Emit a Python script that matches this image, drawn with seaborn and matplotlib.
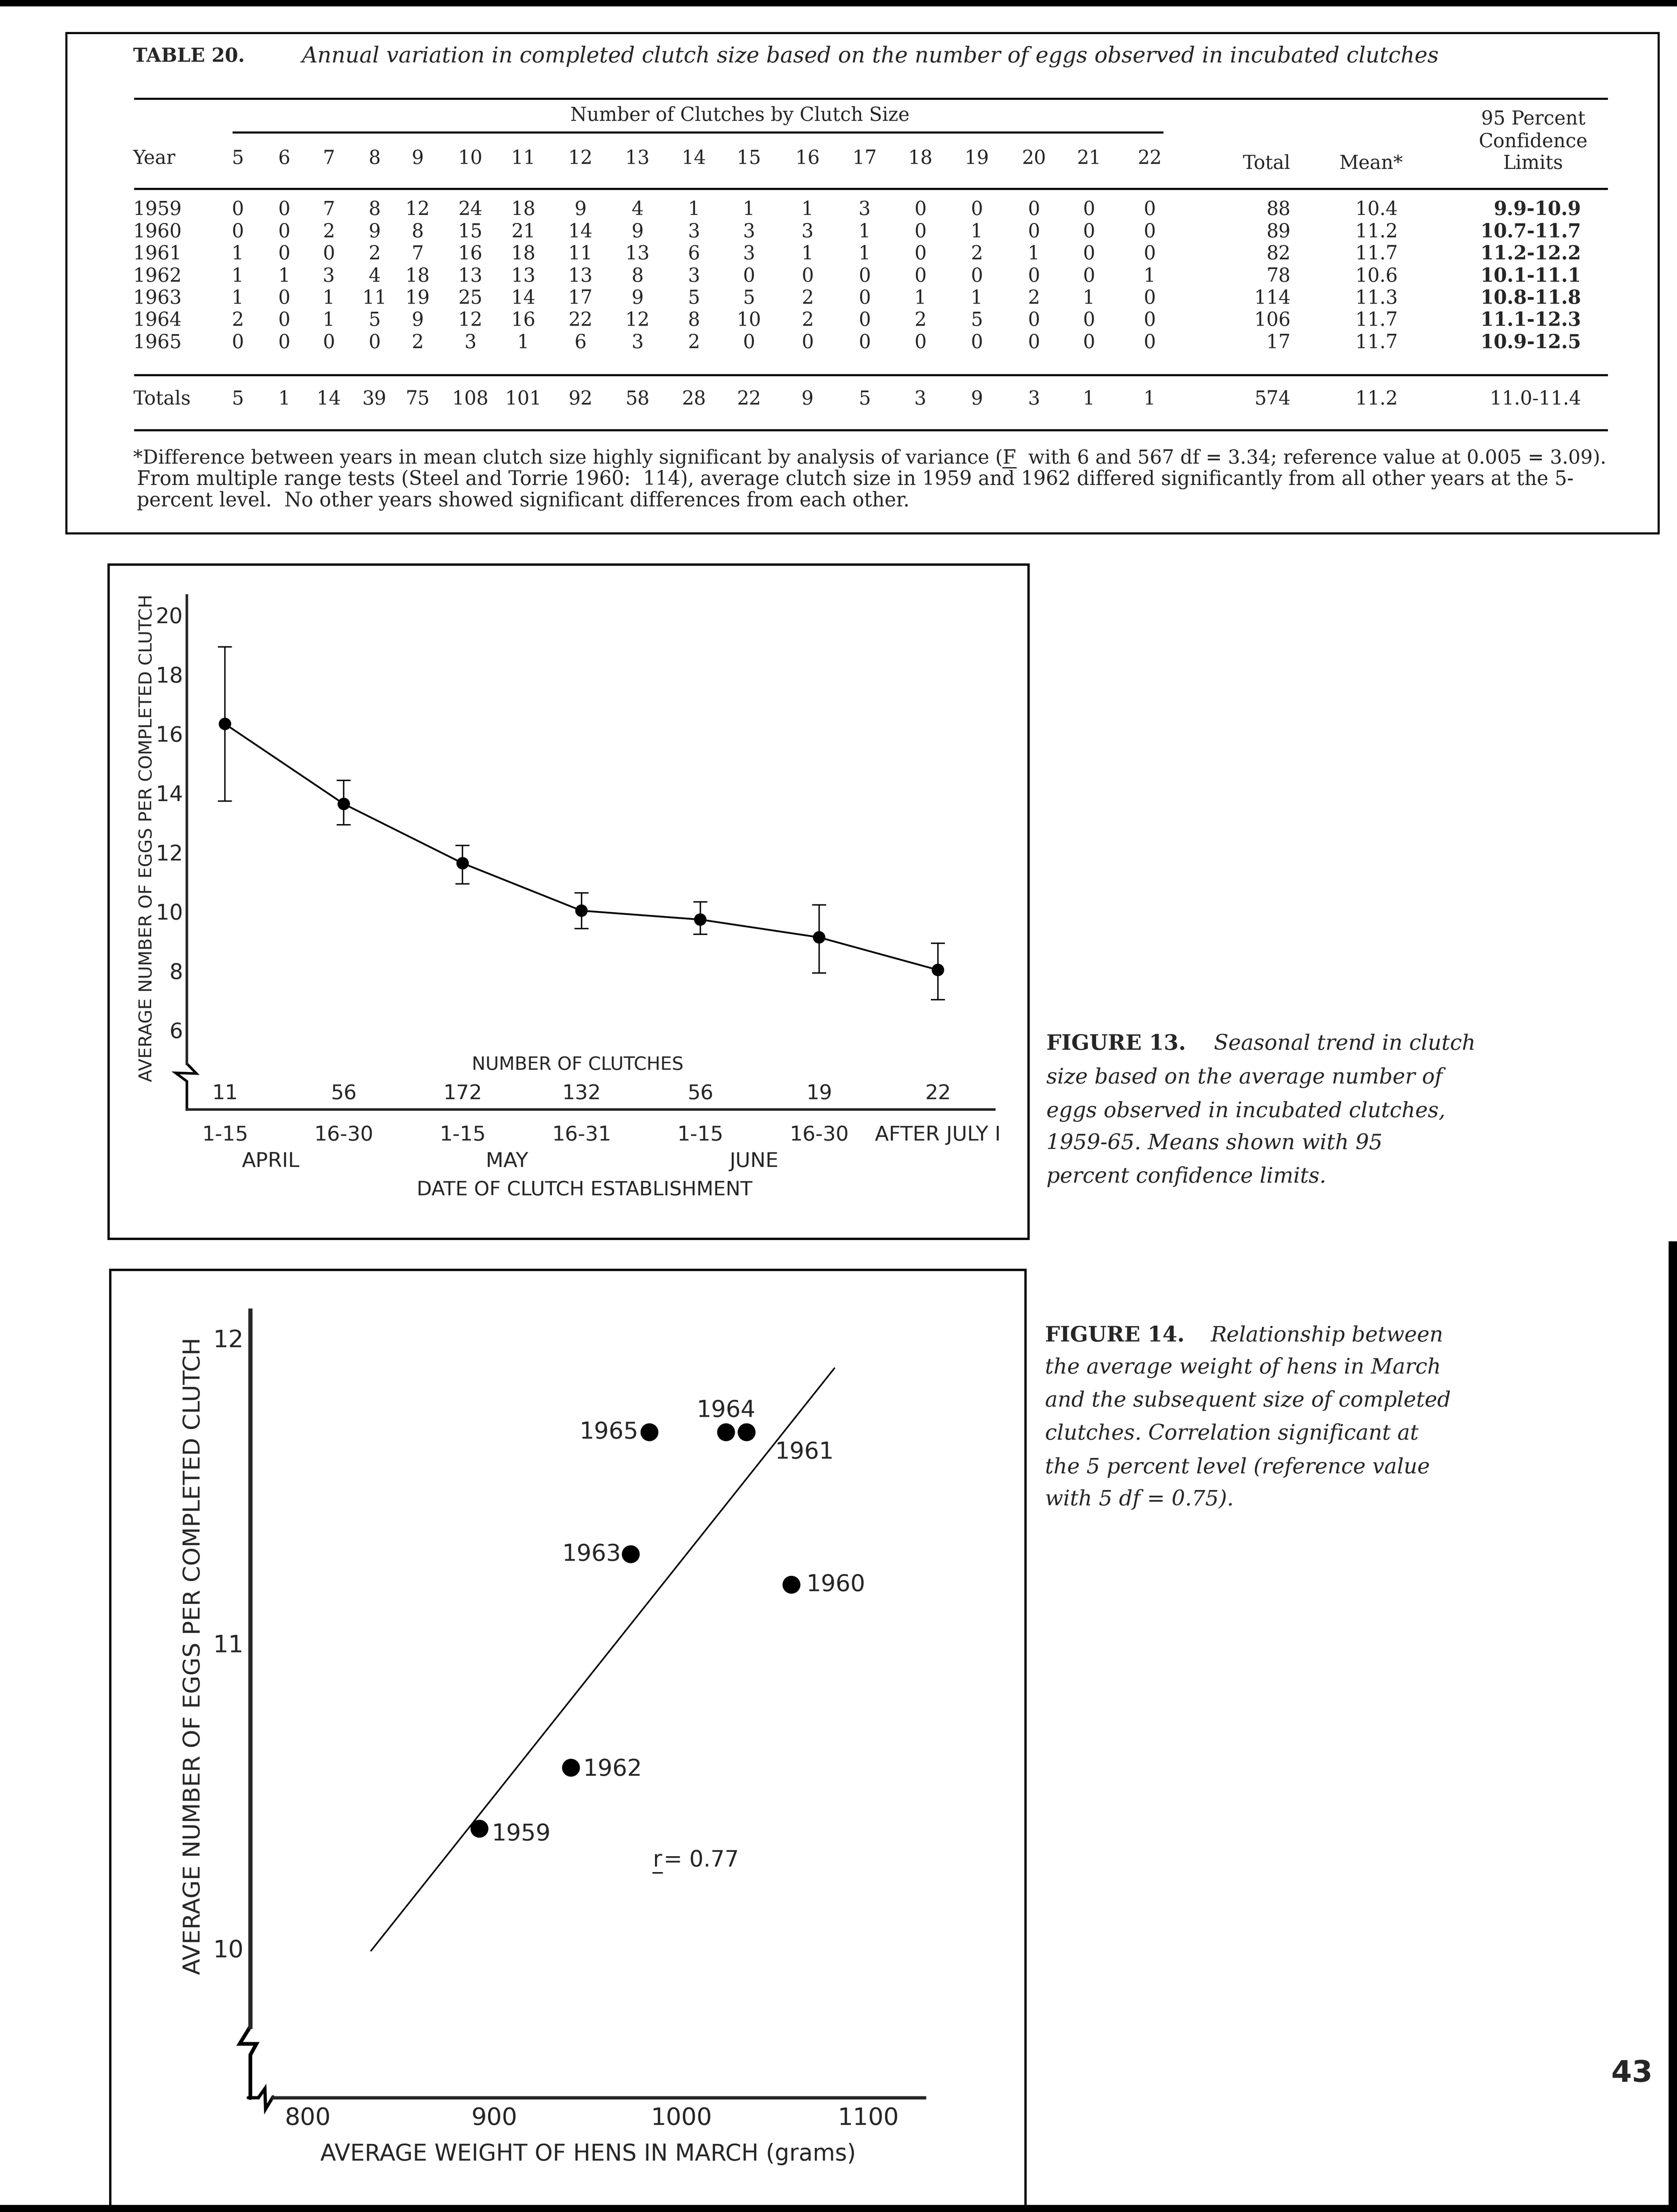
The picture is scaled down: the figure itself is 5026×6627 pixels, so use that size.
import numpy as np
import pandas as pd
import matplotlib
matplotlib.use("Agg")
import matplotlib.pyplot as plt
import matplotlib.transforms as mtransforms
from matplotlib.patches import Rectangle
import seaborn as sns

# ------------------------------------------------------------------ data
# TABLE 20
clutch_sizes = list(range(5, 23))
years = ["1959", "1960", "1961", "1962", "1963", "1964", "1965"]
c1959 = [0, 0, 7, 8, 12, 24, 18, 9, 4, 1, 1, 1, 3, 0, 0, 0, 0, 0]
c1960 = [0, 0, 2, 9, 8, 15, 21, 14, 9, 3, 3, 3, 1, 0, 1, 0, 0, 0]
c1961 = [1, 0, 0, 2, 7, 16, 18, 11, 13, 6, 3, 1, 1, 0, 2, 1, 0, 0]
c1962 = [1, 1, 3, 4, 18, 13, 13, 13, 8, 3, 0, 0, 0, 0, 0, 0, 0, 1]
c1963 = [1, 0, 1, 11, 19, 25, 14, 17, 9, 5, 5, 2, 0, 1, 1, 2, 1, 0]
c1964 = [2, 0, 1, 5, 9, 12, 16, 22, 12, 8, 10, 2, 0, 2, 5, 0, 0, 0]
c1965 = [0, 0, 0, 0, 2, 3, 1, 6, 3, 2, 0, 0, 0, 0, 0, 0, 0, 0]
year_counts = [c1959, c1960, c1961, c1962, c1963, c1964, c1965]
year_totals = [88, 89, 82, 78, 114, 106, 17]
year_means = ["10.4", "11.2", "11.7", "10.6", "11.3", "11.7", "11.7"]
year_limits = ["9.9-10.9", "10.7-11.7", "11.2-12.2", "10.1-11.1",
               "10.8-11.8", "11.1-12.3", "10.9-12.5"]
col_totals = [5, 1, 14, 39, 75, 108, 101, 92, 58, 28, 22, 9, 5, 3, 9, 3, 1, 1]
grand_total = 574
grand_mean = "11.2"
grand_limits = "11.0-11.4"

# FIGURE 13
periods = ["1-15", "16-30", "1-15", "16-31", "1-15", "16-30", "AFTER JULY I"]
months = ["APRIL", "MAY", "JUNE"]
n_clutches = [11, 56, 172, 132, 56, 19, 22]
mean_eggs = [16.4, 13.7, 11.7, 10.1, 9.8, 9.2, 8.1]
ci_low = [13.8, 13.0, 11.0, 9.5, 9.3, 8.0, 7.1]
ci_high = [19.0, 14.5, 12.3, 10.7, 10.4, 10.3, 9.0]
f13_yticks = [6, 8, 10, 12, 14, 16, 18, 20]

# FIGURE 14
hen_years = ["1959", "1960", "1961", "1962", "1963", "1964", "1965"]
hen_weight = [892, 1059, 1035, 941, 973, 1024, 983]
hen_clutch = [10.4, 11.2, 11.7, 10.6, 11.3, 11.7, 11.7]
fit_weight = [834, 1082]
fit_clutch = [10.0, 11.91]
f14_xticks = [800, 900, 1000, 1100]
f14_yticks = [10, 11, 12]

# ------------------------------------------------------------------ page
W, H, DPI = 5026, 6627, 100
PW, PH = 1189.0, 1568.0          # layout units (page scaled)
SX = W / PW                      # pixels per layout unit
PT = SX * 72.0 / DPI             # points per layout unit

sns.set_style("white")
plt.rcParams["font.family"] = ["DejaVu Sans"]
SERIF = "DejaVu Serif"
NARROW = ["Liberation Sans Narrow", "DejaVu Sans"]
SANS = ["DejaVu Sans"]

fig = plt.figure(figsize=(W / DPI, H / DPI), dpi=DPI, facecolor="white")
pg = fig.add_axes([0, 0, 1, 1], zorder=0)
pg.set_xlim(0, PW)
pg.set_ylim(PH, 0)
pg.axis("off")
renderer = fig.canvas.get_renderer()


def fit(t, w, vertical=False):
    bb = t.get_window_extent(renderer)
    cur = bb.height if vertical else bb.width
    t.set_fontsize(t.get_fontsize() * w * SX / cur)
    return t.get_fontsize()


def text_width(s, **kw):
    tmp = pg.text(0, 0, s, **kw)
    w = tmp.get_window_extent(renderer).width / SX
    tmp.remove()
    return w


def rule(x0, x1, y, lw=4.5):
    pg.plot([x0, x1], [y, y], color="black", lw=lw, solid_capstyle="butt")


def box(x0, y0, x1, y1, lw=4.5):
    pg.add_patch(Rectangle((x0, y0), x1 - x0, y1 - y0, fill=False,
                           edgecolor="black", lw=lw))


# page edges
pg.add_patch(Rectangle((0, 0), PW, 4.3, color="black"))
pg.add_patch(Rectangle((0, 1563), PW, 5, color="black"))
pg.add_patch(Rectangle((1183, 880), 6, 688, color="black"))

# ------------------------------------------------------------------ TABLE 20
box(47, 23.5, 1176, 378, lw=4.5)
TS = 41
pg.text(94.4, 40, "TABLE 20.", family=SERIF, weight="bold", fontsize=TS,
        ha="left", va="center")
t = pg.text(214, 40, "Annual variation in completed clutch size based on the "
            "number of eggs observed in incubated clutches",
            family=SERIF, style="italic", fontsize=TS, ha="left", va="center")
fit(t, 1021 - 214)

rule(95, 1140, 70)
pg.text(524.6, 82, "Number of Clutches by Clutch Size", family=SERIF,
        fontsize=TS, ha="center", va="center")
rule(165, 825, 94)
for yy, s in zip([84.5, 100.5, 116], ["95 Percent", "Confidence", "Limits"]):
    pg.text(1087, yy, s, family=SERIF, fontsize=TS, ha="center", va="center")

col_x = [168.5, 201.5, 233, 265.5, 296, 333.5, 371, 411.5, 452, 492, 531,
         572.5, 613, 652.5, 692.5, 733, 772, 815]
hy = 112.5
pg.text(94.4, hy, "Year", family=SERIF, fontsize=TS, ha="left", va="center")
for x, c in zip(col_x, clutch_sizes):
    pg.text(x, hy, str(c), family=SERIF, fontsize=TS, ha="center", va="center")
pg.text(898, 116, "Total", family=SERIF, fontsize=TS, ha="center", va="center")
pg.text(972, 116, "Mean*", family=SERIF, fontsize=TS, ha="center", va="center")
rule(95, 1140, 134)

row_y0, row_dy = 148.7, 15.7
for i, (yr, row) in enumerate(zip(years, year_counts)):
    y = row_y0 + i * row_dy
    pg.text(94.4, y, yr, family=SERIF, fontsize=TS, ha="left", va="center")
    for x, v in zip(col_x, row):
        pg.text(x, y, str(v), family=SERIF, fontsize=TS, ha="center", va="center")
    pg.text(915, y, str(year_totals[i]), family=SERIF, fontsize=TS,
            ha="right", va="center")
    pg.text(976, y, year_means[i], family=SERIF, fontsize=TS,
            ha="center", va="center")
    pg.text(1121, y, year_limits[i], family=SERIF, fontsize=TS, weight="bold",
            ha="right", va="center")

rule(95, 1140, 266)
ty = 283
pg.text(94.4, ty, "Totals", family=SERIF, fontsize=TS, ha="left", va="center")
for x, v in zip(col_x, col_totals):
    pg.text(x, ty, str(v), family=SERIF, fontsize=TS, ha="center", va="center")
pg.text(915, ty, str(grand_total), family=SERIF, fontsize=TS, ha="right", va="center")
pg.text(976, ty, grand_mean, family=SERIF, fontsize=TS, ha="center", va="center")
pg.text(1121, ty, grand_limits, family=SERIF, fontsize=TS, ha="right", va="center")
rule(95, 1140, 305)

fn_pre = ("*Difference between years in mean clutch size highly "
          "significant by analysis of variance (")
f1 = pg.text(94.4, 325, fn_pre + "F  with 6 and 567 df = 3.34; "
             "reference value at 0.005 = 3.09).", family=SERIF, fontsize=TS,
             ha="left", va="center")
fs1 = fit(f1, 1140 - 94.4)
ux0 = 94.4 + text_width(fn_pre, family=SERIF, fontsize=fs1)
uw = text_width("F", family=SERIF, fontsize=fs1)
pg.plot([ux0, ux0 + uw], [331.5, 331.5], color="black", lw=2.5)
f2 = pg.text(97, 340, "From multiple range tests (Steel and Torrie 1960:  114), "
             "average clutch size in 1959 and 1962 differed significantly from "
             "all other years at the 5-", family=SERIF, fontsize=TS,
             ha="left", va="center")
fs2 = fit(f2, 1118 - 97)
pg.text(97, 355, "percent level.  No other years showed significant differences "
        "from each other.", family=SERIF, fontsize=fs2, ha="left", va="center")

# ------------------------------------------------------------------ FIGURE 13
box(77, 400, 729, 878, lw=5)
L13, R13, T13, B13 = 132.5, 705, 422, 786.6
ax13 = fig.add_axes([L13 / PW, 1 - B13 / PH, (R13 - L13) / PW, (B13 - T13) / PH],
                    zorder=2)
ax13.patch.set_alpha(0)
xpos = list(range(len(mean_eggs)))
df13 = pd.DataFrame({"x": xpos, "mean": mean_eggs, "lo": ci_low, "hi": ci_high})
sns.lineplot(data=df13, x="x", y="mean", ax=ax13, color="black", lw=3.8)
ax13.errorbar(df13["x"], df13["mean"],
              yerr=[df13["mean"] - df13["lo"], df13["hi"] - df13["mean"]],
              fmt="none", ecolor="black", elinewidth=3, capsize=15, capthick=3)
sns.scatterplot(data=df13, x="x", y="mean", ax=ax13, color="black", s=720,
                edgecolor="none", zorder=5)
ax13.set_xlim(-0.3205, 6.4748)
ax13.set_ylim(3.387, 20.738)
for s in ["top", "right"]:
    ax13.spines[s].set_visible(False)
ax13.spines["left"].set_linewidth(5.5)
ax13.spines["bottom"].set_linewidth(5.5)
ax13.spines["left"].set_bounds(4.94, 20.738)
ax13.set_xticks(xpos)
ax13.set_xticklabels(periods)
ax13.set_yticks(f13_yticks)
ax13.tick_params(axis="x", direction="inout", length=13 * PT, width=3.2, pad=14,
                 labelsize=44, color="black")
ax13.tick_params(axis="y", direction="in", length=6.6 * PT, width=3.2,
                 labelleft=False, color="black")
for lbl in ax13.get_xticklabels():
    lbl.set_family(NARROW)
ax13.set_xlabel("")
ax13.set_ylabel("")
yblend13 = mtransforms.blended_transform_factory(ax13.transAxes, ax13.transData)
for v in f13_yticks:
    ax13.text(-0.005, v, str(v), transform=yblend13, rotation=0, ha="right",
              va="center", fontsize=46, family=NARROW)
blend13 = mtransforms.blended_transform_factory(ax13.transData, ax13.transAxes)
for x, n in zip(xpos, n_clutches):
    ax13.text(x, (B13 - 775.3) / (B13 - T13), str(n), transform=blend13,
              ha="center", va="center", fontsize=44, family=NARROW)
for x, m in zip([0.386, 2.375, 4.453], months):
    ax13.text(x, (B13 - 823.3) / (B13 - T13), m, transform=blend13,
              ha="center", va="center", fontsize=44, family=NARROW)
t = pg.text(409.6, 754.8, "NUMBER OF CLUTCHES", family=NARROW, fontsize=44,
            ha="center", va="center")
fit(t, 150)
t = pg.text(414.5, 843.4, "DATE OF CLUTCH ESTABLISHMENT", family=NARROW,
            fontsize=44, ha="center", va="center")
fit(t, 238)
t = pg.text(104, 594, "AVERAGE NUMBER OF EGGS PER COMPLETED CLUTCH",
            family=NARROW, fontsize=44, rotation=90, ha="center", va="center")
fit(t, 346, vertical=True)
zz13 = np.array([(132.5, 754), (139.3, 761), (124.4, 760.5), (132.5, 766.5),
                 (132.5, 786.6)])
pg.plot(zz13[:, 0], zz13[:, 1], color="black", lw=5.5, solid_joinstyle="miter")

# caption 13
cap13 = ["size based on the average number of",
         "eggs observed in incubated clutches,",
         "1959-65. Means shown with 95",
         "percent confidence limits."]
cy13 = [764, 788, 810.5, 834]
fig13_head = pg.text(742, 740, "FIGURE 13.", family=SERIF, weight="bold",
                     fontsize=44, ha="left", va="center")
tt = [pg.text(742, y, s, family=SERIF, style="italic", fontsize=44,
              ha="left", va="center") for s, y in zip(cap13, cy13)]
cs = fit(tt[1], 1025 - 742)
for t in tt:
    t.set_fontsize(cs)
fig13_head.set_fontsize(cs)
pg.text(860.7, 740, "Seasonal trend in clutch", family=SERIF, style="italic",
        fontsize=cs, ha="left", va="center")

# ------------------------------------------------------------------ FIGURE 14
box(78, 900, 727, 1566, lw=5)
L14, R14, T14, B14 = 177.5, 655.6, 929, 1487
ax14 = fig.add_axes([L14 / PW, 1 - B14 / PH, (R14 - L14) / PW, (B14 - T14) / PH],
                    zorder=2)
ax14.patch.set_alpha(0)
df14 = pd.DataFrame({"weight": hen_weight, "clutch": hen_clutch, "year": hen_years})
sns.lineplot(x=fit_weight, y=fit_clutch, ax=ax14, color="black", lw=3.4)
sns.scatterplot(data=df14, x="weight", y="clutch", ax=ax14, color="black",
                s=1490, edgecolor="none", zorder=5)
label_place = {"1959": (26, -11, "left"), "1960": (32, 0, "left"),
               "1961": (61, -43, "left"), "1962": (26, -3, "left"),
               "1963": (-21, 0, "right"), "1964": (0, 47, "center"),
               "1965": (-24, 0, "right")}
for _, r in df14.iterrows():
    dx, dy, ha = label_place[r["year"]]
    ax14.annotate(r["year"], (r["weight"], r["clutch"]), xytext=(dx, dy),
                  textcoords="offset points", ha=ha, va="center",
                  fontsize=50, family=SANS)
ax14.set_xlim(769.4, 1130.3)
ax14.set_ylim(9.518, 12.099)
for s in ["top", "right"]:
    ax14.spines[s].set_visible(False)
ax14.spines["left"].set_linewidth(9)
ax14.spines["bottom"].set_linewidth(7)
ax14.spines["left"].set_bounds(9.751, 12.099)
ax14.spines["bottom"].set_bounds(781.5, 1130.3)
ax14.set_xticks(f14_xticks)
ax14.set_xticklabels([str(v) for v in f14_xticks])
ax14.set_yticks(f14_yticks)
ax14.tick_params(axis="x", direction="in", length=7.7 * PT, width=4, pad=20,
                 labelsize=52, color="black")
ax14.tick_params(axis="y", direction="in", length=6.5 * PT, width=4,
                 labelleft=False, color="black")
yblend14 = mtransforms.blended_transform_factory(ax14.transAxes, ax14.transData)
for v in f14_yticks:
    ax14.text(-0.01, v, str(v), transform=yblend14, rotation=0, ha="right",
              va="center", fontsize=52, family=SANS)
ax14.set_xlabel("")
ax14.set_ylabel("")
zz14y = np.array([(177.5, 1436.5), (169.9, 1448.8), (181.8, 1448.8),
                  (177.5, 1456.6), (177.5, 1487.3)])
pg.plot(zz14y[:, 0], zz14y[:, 1], color="black", lw=8, solid_joinstyle="miter")
zz14x = np.array([(176, 1487), (183.2, 1487), (187.8, 1480.5), (188.3, 1495),
                  (193.5, 1486.4)])
pg.plot(zz14x[:, 0], zz14x[:, 1], color="black", lw=7, solid_joinstyle="miter")
t = pg.text(417, 1527, "AVERAGE WEIGHT OF HENS IN MARCH (grams)", family=SANS,
            fontsize=48, ha="center", va="center")
fit(t, 379)
t = pg.text(137, 1174, "AVERAGE NUMBER OF EGGS PER COMPLETED CLUTCH",
            family=SANS, fontsize=48, rotation=90, ha="center", va="center")
fit(t, 451.5, vertical=True)
pg.text(463, 1318.7, "r", family=SANS, fontsize=48, ha="left", va="center")
pg.plot([463, 469.5], [1327.5, 1327.5], color="black", lw=3)
pg.text(470.5, 1318.7, "= 0.77", family=SANS, fontsize=48, ha="left", va="center")

# caption 14
cap14 = ["the average weight of hens in March",
         "and the subsequent size of completed",
         "clutches. Correlation significant at",
         "the 5 percent level (reference value",
         "with 5 df = 0.75)."]
cy14 = [969.4, 992.7, 1016.3, 1040, 1063]
pg.text(741, 946.7, "FIGURE 14.", family=SERIF, weight="bold", fontsize=cs,
        ha="left", va="center")
pg.text(858.5, 946.7, "Relationship between", family=SERIF, style="italic",
        fontsize=cs, ha="left", va="center")
for s, y in zip(cap14, cy14):
    pg.text(741, y, s, family=SERIF, style="italic", fontsize=cs,
            ha="left", va="center")

# page number
pg.text(1157, 1470, "43", family=["Liberation Sans Narrow", "DejaVu Sans"],
        weight="bold", fontsize=64, ha="center", va="center")

fig.savefig("out.png", dpi=DPI, facecolor="white")
